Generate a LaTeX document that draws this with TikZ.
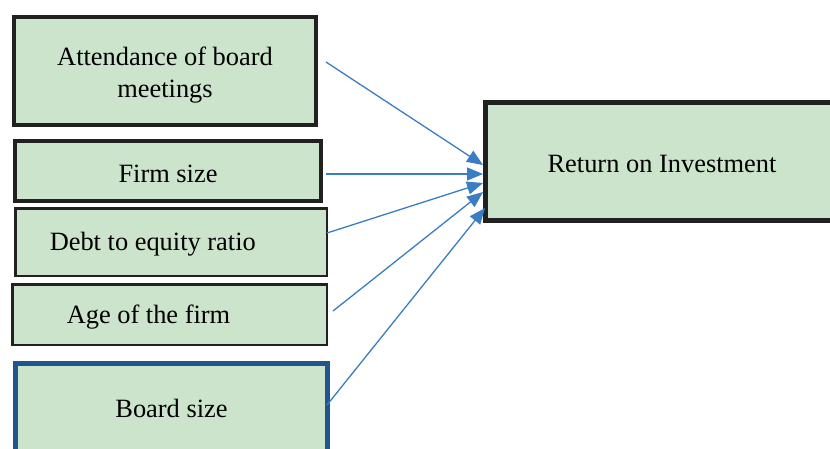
\documentclass[tikz,border=0pt]{standalone}
\usepackage{fontspec}
\setmainfont{Liberation Serif}
\usetikzlibrary{arrows.meta}

\definecolor{boxgreen}{RGB}{205,228,204}
\definecolor{linkblue}{RGB}{58,125,194}
\definecolor{edgeblue}{RGB}{31,86,140}

\begin{document}
\begin{tikzpicture}[x=1pt,y=-1pt,
    factor/.style={rectangle,draw=black!87,fill=boxgreen,inner sep=0pt,text height=23pt,
      font=\fontsize{26.4}{32}\selectfont,align=center},
    link/.style={draw=linkblue,line width=1.3pt,-{Triangle[length=16pt,width=13pt]}}]
  \useasboundingbox (0,0) rectangle (830,448);

  % independent variables
  \node (att) at (165,71) [factor,line width=4pt,minimum width=302,minimum height=108,text height=59pt] {Attendance of board\\meetings};
  \node (firm) at (168,171) [factor,line width=4pt,minimum width=306,minimum height=60] {Firm size};
  \node (debt) at (171,242) [factor,line width=2.5pt,minimum height=67.5,
    inner xsep=34.5pt,text width=242.5pt,align=flush left] {Debt to equity ratio};
  \node (age) at (169.5,314.5) [factor,line width=2.5pt,minimum height=60.5,
    inner xsep=54.5pt,text width=205.5pt,align=flush left] {Age of the firm};
  \node (board) at (171.5,413.5) [factor,draw=edgeblue,line width=5pt,minimum width=312,minimum height=100,text depth=15pt] {Board size};

  % dependent variable
  \node (roi) at (662,161.5) [factor,line width=5pt,minimum width=353,minimum height=118] {Return on Investment};

  \draw[link] ([xshift=8pt,yshift=9pt]att.east) -- ([yshift=-3.5pt]roi.west);
  \draw[link] ([xshift=3pt,yshift=-3pt]firm.east) -- ([yshift=-12.5pt]roi.west);
  \draw[link] ([xshift=-1pt,yshift=9pt]debt.east) -- ([yshift=-21.5pt]roi.west);
  \draw[link] ([xshift=5pt,yshift=3.5pt]age.east) -- ([yshift=-30.5pt]roi.west);
  \draw[link] ([xshift=-3pt,yshift=8.5pt]board.east) -- ([xshift=2pt,yshift=-46.5pt]roi.west);
\end{tikzpicture}
\end{document}
